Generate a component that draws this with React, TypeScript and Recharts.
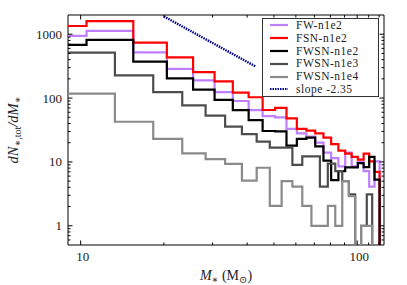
import { LineChart, Line, XAxis, YAxis, ReferenceArea, Legend } from "recharts";

// bin edges in solar masses (two different binnings)
const EDGES_A = [
  5.5, 10.5, 15.5, 20.5, 25.5, 30.5, 35.5, 40.5, 45.5, 50.5, 55.5, 60.5,
  65.5, 70.5, 75.5, 80.5, 85.5, 90.5, 95.5, 100.5, 105.5, 110.5, 115.5, 120.5,
];
const EDGES_B = [
  8.3, 13.3, 18.3, 23.3, 28.3, 33.3, 38.3, 43.3, 48.3, 53.3, 58.3, 63.3,
  68.3, 73.3, 78.3, 83.3, 88.3, 93.3, 98.3, 103.3, 108.3, 113.3, 118.3, 123.3,
];

// dN/dM per bin (0 = empty bin)
const FW_N1E2 = [941, 1125, 519, 286, 189, 124, 90, 64.7, 52, 50, 33, 28, 25, 20, 14, 11.5, 8.5, 14, 8.5, 10, 7.2, 4.1, 10.2];
const FSN_N1E2 = [1346, 1608, 741, 433, 254, 182, 122, 103, 65, 70, 48, 33, 31, 28, 24, 19, 15, 13.5, 12, 10.9, 13.5, 10.2, 7];
const FWSN_N1E2 = [682, 816, 372, 203, 136, 94, 64.7, 45.3, 30.5, 30, 18, 23, 24, 17.5, 10.5, 5.2, 7.2, 8.2, 8.2, 9.6, 8.3, 12, 5.3];
const FWSN_N1E3 = [515, 226, 124, 77, 53, 35.6, 27.3, 20.8, 16.8, 16.8, 9.0, 12.2, 12.2, 4.1, 9.4, 7.2, 5.0, 3.1, 0, 1.0, 3.1, 0, 0];
const FWSN_N1E4 = [117, 42.6, 23.0, 13.6, 11.1, 9.3, 5.1, 8.1, 2.05, 5.0, 4.1, 2.05, 1.0, 1.0, 2.05, 1.0, 5.0, 2.9, 0, 1.0, 1.0, 0, 0];

// reference slope, end points
const SLOPE_X = [20, 43];
const SLOPE_Y = [1900, 311];

const X_MAJOR = [10, 100];
const X_MINOR = [20, 30, 40, 50, 60, 70, 80, 90, 110, 120];
const Y_MAJOR = [1, 10, 100, 1000];
const Y_MINOR = [
  0.6, 0.7, 0.8, 0.9, 2, 3, 4, 5, 6, 7, 8, 9, 20, 30, 40, 50, 60, 70, 80, 90,
  200, 300, 400, 500, 600, 700, 800, 900,
];

const W = 407;
const H = 285;
const PLOT = { left: 68, top: 15, right: 384, bottom: 245 };
const FLOOR = 0.3; // empty bins drawn below the axis
const ROW = 12.8; // legend row pitch

const SERIF = "'Liberation Serif', 'DejaVu Serif', serif";

function steps(edges: number[], values: number[]) {
  const pts = values.map((v, i) => ({ x: edges[i], y: v > 0 ? v : FLOOR }));
  pts.push({ x: edges[values.length], y: FLOOR });
  return pts;
}

const SERIES = [
  { name: "FW-n1e2", color: "#bf7fff", data: steps(EDGES_A, FW_N1E2) },
  { name: "FSN-n1e2", color: "#ff0000", data: steps(EDGES_A, FSN_N1E2) },
  { name: "FWSN-n1e2", color: "#000000", data: steps(EDGES_A, FWSN_N1E2) },
  { name: "FWSN-n1e3", color: "#4d4d4d", data: steps(EDGES_B, FWSN_N1E3) },
  { name: "FWSN-n1e4", color: "#8a8a8a", data: steps(EDGES_B, FWSN_N1E4) },
];
const slopeData = SLOPE_X.map((x, i) => ({ x, y: SLOPE_Y[i] }));

// eslint-disable-next-line @typescript-eslint/no-explicit-any
function XTick({ x, y, payload }: any) {
  const major = X_MAJOR.includes(payload.value);
  const len = major ? 4.5 : 2.5;
  return (
    <g>
      <line x1={x} x2={x} y1={y} y2={y - len} stroke="#000" />
      <line x1={x} x2={x} y1={PLOT.top} y2={PLOT.top + len} stroke="#000" />
      {major && (
        <text x={x + 2} y={y + 16} textAnchor="middle" fontSize={13} fontFamily={SERIF} fill="#222">
          {payload.value}
        </text>
      )}
    </g>
  );
}

// eslint-disable-next-line @typescript-eslint/no-explicit-any
function YTick({ x, y, payload }: any) {
  const major = Y_MAJOR.includes(payload.value);
  const len = major ? 4.5 : 2.5;
  return (
    <g>
      <line x1={x} x2={x + len} y1={y} y2={y} stroke="#000" />
      <line x1={PLOT.right} x2={PLOT.right - len} y1={y} y2={y} stroke="#000" />
      {major && (
        <text x={x - 6} y={y + 4.5} textAnchor="end" fontSize={13} fontFamily={SERIF} fill="#222">
          {payload.value}
        </text>
      )}
    </g>
  );
}

function LegendBox() {
  const rows = [
    ...SERIES.map((s) => ({ name: s.name, color: s.color, dash: undefined as string | undefined })),
    { name: "slope -2.35", color: "#00008b", dash: "1.5 1" },
  ];
  return (
    <div
      style={{
        width: 117,
        boxSizing: "border-box",
        border: "1px solid #333",
        background: "#fff",
        fontFamily: SERIF,
        fontSize: 11.5,
        letterSpacing: 0.5,
        color: "#222",
      }}
    >
      {rows.map((r) => (
        <div key={r.name} style={{ display: "flex", alignItems: "center", height: ROW }}>
          <svg width={33} height={12} style={{ flex: "none" }}>
            <line x1={7} x2={25} y1={6} y2={6} stroke={r.color} strokeWidth={2.2} strokeDasharray={r.dash} />
          </svg>
          <span style={{ display: "block", whiteSpace: "nowrap", lineHeight: `${ROW}px` }}>{r.name}</span>
        </div>
      ))}
    </div>
  );
}

export default function App() {
  return (
    <div style={{ position: "absolute", left: 0, top: 0, width: W, height: H, background: "#fff" }}>
      <LineChart width={W} height={H} margin={{ top: PLOT.top, right: W - PLOT.right, bottom: 0, left: 0 }}>
        <XAxis
          dataKey="x"
          type="number"
          scale="log"
          domain={[9, 125]}
          allowDataOverflow
          ticks={[...X_MAJOR, ...X_MINOR]}
          interval={0}
          height={H - PLOT.bottom}
          tickSize={0}
          tickMargin={0}
          axisLine={false}
          tick={<XTick />}
        />
        <YAxis
          type="number"
          scale="log"
          domain={[0.5, 2000]}
          allowDataOverflow
          ticks={[...Y_MAJOR, ...Y_MINOR]}
          interval={0}
          width={PLOT.left}
          tickSize={0}
          tickMargin={0}
          axisLine={false}
          tick={<YTick />}
        />
        {SERIES.map((s) => (
          <Line
            key={s.name}
            data={s.data}
            dataKey="y"
            name={s.name}
            type="stepAfter"
            stroke={s.color}
            strokeWidth={2.2}
            dot={false}
            activeDot={false}
            isAnimationActive={false}
          />
        ))}
        <Line
          data={slopeData}
          dataKey="y"
          name="slope -2.35"
          type="linear"
          stroke="#00008b"
          strokeWidth={2.4}
          strokeDasharray="1.5 1"
          dot={false}
          activeDot={false}
          isAnimationActive={false}
        />
        <ReferenceArea x1={9} x2={125} y1={0.5} y2={2000} fill="none" stroke="#000" strokeWidth={1} ifOverflow="visible" />
        <Legend
          layout="vertical"
          align="center"
          verticalAlign="middle"
          content={() => <LegendBox />}
          wrapperStyle={{ left: 262, top: 18, width: 117 }}
        />
      </LineChart>
      <svg width={W} height={H} style={{ position: "absolute", left: 0, top: 0, pointerEvents: "none" }}>
        <text x={226} y={280} textAnchor="middle" fontFamily={SERIF} fontSize={14} fill="#222">
          <tspan fontStyle="italic">M</tspan>
          <tspan fontSize={10} dy={3}>∗</tspan>
          <tspan dy={-3}> (M</tspan>
          <tspan fontSize={10} dy={3}>⊙</tspan>
          <tspan dy={-3}>)</tspan>
        </text>
        <text transform="translate(18,130) rotate(-90)" textAnchor="middle" fontFamily={SERIF} fontSize={14.5} fill="#222">
          <tspan fontStyle="italic">dN</tspan>
          <tspan fontSize={10} dy={3}>
            <tspan fontStyle="italic">∗</tspan>,tot
          </tspan>
          <tspan dy={-3} fontStyle="italic">/dM</tspan>
          <tspan fontSize={10} dy={3} fontStyle="italic">∗</tspan>
        </text>
      </svg>
    </div>
  );
}
